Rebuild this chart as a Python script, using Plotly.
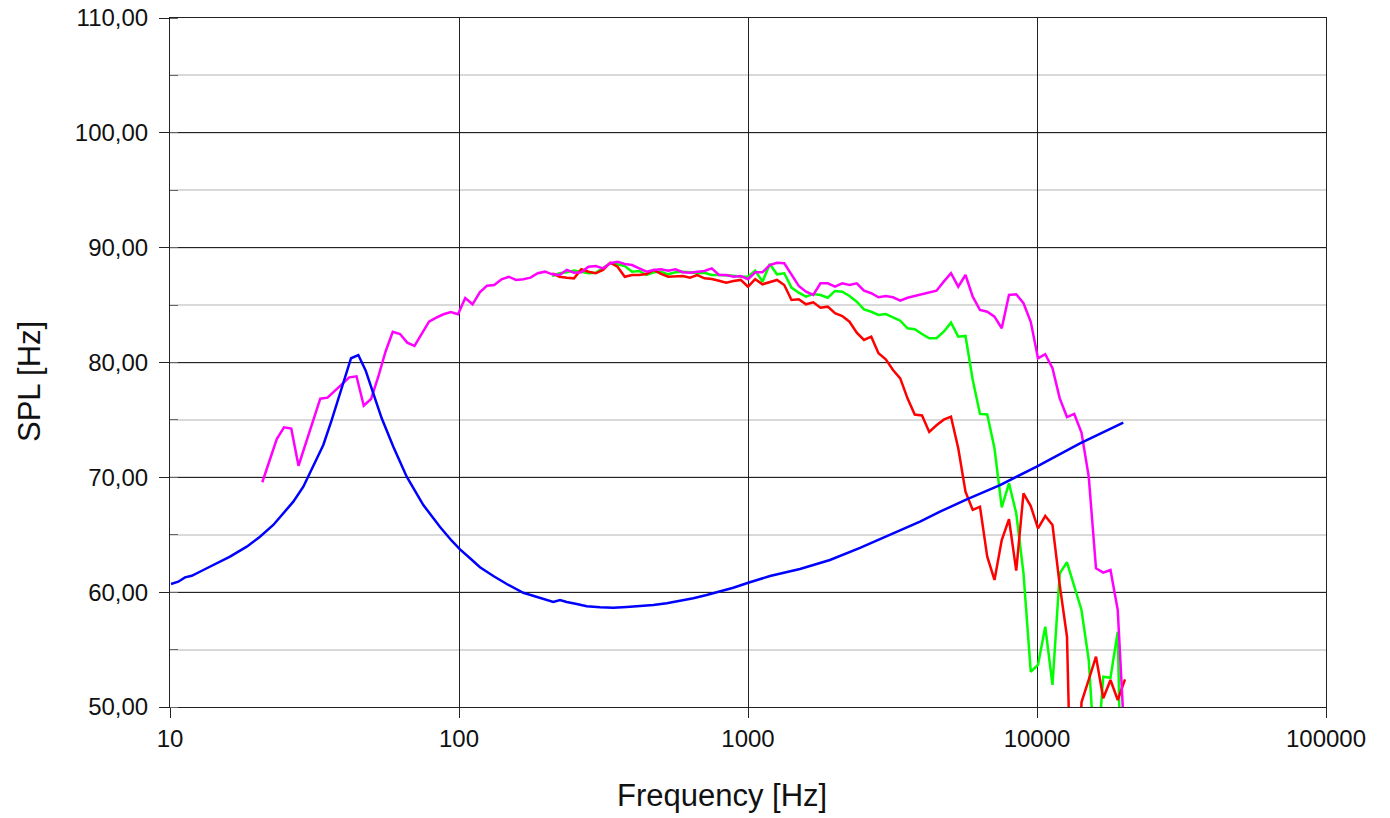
import plotly.graph_objects as go

# 1/12-octave measurement frequencies (Hz)
FREQ = [20.86, 22.10, 23.41, 24.80, 26.28, 27.84, 29.50, 31.25, 33.11, 35.08,
        37.16, 39.37, 41.71, 44.19, 46.82, 49.61, 52.56, 55.68, 58.99, 62.50,
        66.22, 70.15, 74.33, 78.75, 83.43, 88.39, 93.64, 99.21, 105.1, 111.4,
        118.0, 125.0, 132.4, 140.3, 148.7, 157.5, 166.9, 176.8, 187.3, 198.4,
        210.2, 222.7, 236.0, 250.0, 264.9, 280.6, 297.3, 315.0, 333.7, 353.6,
        374.6, 396.9, 420.4, 445.4, 471.9, 500.0, 529.7, 561.2, 594.6, 630.0,
        667.4, 707.1, 749.2, 793.7, 840.9, 890.9, 943.9, 1000, 1059.5, 1122.5,
        1189.2, 1259.9, 1334.8, 1414.2, 1498.3, 1587.4, 1681.8, 1781.8, 1887.7, 2000,
        2118.9, 2244.9, 2378.4, 2519.8, 2669.7, 2828.4, 2996.6, 3174.8, 3363.6, 3563.6,
        3775.5, 4000, 4237.8, 4489.8, 4756.8, 5039.7, 5339.4, 5656.9, 5993.2, 6349.6,
        6727.2, 7127.2, 7551.0, 8000, 8475.7, 8979.7, 9513.7, 10079, 10679, 11314,
        11986, 12699, 13454, 14254, 15102, 16000, 16951, 17959, 19027, 20159]

MAGENTA_DB = [69.57, 71.46, 73.34, 74.36, 74.24, 71.01, 72.96, 74.76, 76.85, 76.94,
              77.55, 78.13, 78.71, 78.80, 76.24, 76.82, 78.76, 80.94, 82.68, 82.48,
              81.73, 81.44, 82.48, 83.55, 83.90, 84.20, 84.40, 84.20, 85.62, 85.07,
              86.11, 86.69, 86.75, 87.25, 87.47, 87.19, 87.25, 87.39, 87.77, 87.91,
              87.68, 87.62, 88.06, 87.82, 87.86, 88.34, 88.40, 88.20, 88.64, 88.78,
              88.58, 88.49, 88.20, 87.91, 88.06, 88.12, 88.00, 88.12, 87.86, 87.82,
              87.91, 87.97, 88.20, 87.62, 87.62, 87.47, 87.53, 87.25, 87.86, 87.86,
              88.49, 88.69, 88.64, 87.62, 86.66, 86.17, 85.88, 86.90, 86.90, 86.60,
              86.90, 86.75, 86.90, 86.25, 86.03, 85.68, 85.79, 85.68, 85.38, 85.64,
              85.79, 85.94, 86.08, 86.25, 87.04, 87.77, 86.60, 87.62, 85.73, 84.57,
              84.42, 83.99, 82.98, 85.88, 85.94, 85.16, 83.55, 80.37, 80.72, 79.50,
              76.88, 75.25, 75.52, 73.89, 70.06, 62.08, 61.70, 61.93, 58.45, 46.30]

# red and green start at 210.2 Hz (index 40 of FREQ)
RG_START = 40

RED_DB = [87.77, 87.47, 87.39, 87.33, 88.12, 87.91, 87.77, 88.06, 88.69, 88.34,
          87.47, 87.62, 87.62, 87.71, 88.06, 87.71, 87.47, 87.47, 87.53, 87.39,
          87.62, 87.33, 87.27, 87.12, 86.95, 87.10, 87.19, 86.60, 87.25, 86.81,
          86.99, 87.19, 86.75, 85.44, 85.51, 85.07, 85.24, 84.77, 84.86, 84.29,
          84.05, 83.55, 82.60, 81.96, 82.25, 80.80, 80.28, 79.35, 78.62, 76.88,
          75.47, 75.39, 73.95, 74.53, 75.02, 75.28, 72.53, 68.75, 67.16, 67.44,
          63.09, 61.06, 64.54, 66.35, 61.87, 68.61, 67.50, 65.56, 66.63, 65.85,
          60.62, 56.12, 30.00, 50.41, 52.39, 54.38, 50.76, 52.35, 50.61, 52.41]

GREEN_DB = [87.53, 87.77, 87.86, 88.00, 87.91, 87.77, 87.82, 88.20, 88.64, 88.55,
            88.40, 87.91, 87.97, 87.62, 87.86, 87.91, 87.68, 87.86, 87.91, 87.86,
            87.77, 87.82, 87.62, 87.62, 87.62, 87.56, 87.47, 87.47, 88.01, 87.04,
            88.58, 87.68, 87.77, 86.52, 86.08, 85.73, 85.97, 85.88, 85.64, 86.23,
            86.17, 85.79, 85.30, 84.63, 84.42, 84.14, 84.22, 83.94, 83.64, 82.98,
            82.89, 82.48, 82.11, 82.11, 82.68, 83.47, 82.25, 82.31, 78.48, 75.52,
            75.47, 72.53, 67.39, 69.48, 66.87, 61.64, 53.07, 53.66, 56.99, 51.92,
            61.64, 62.60, 60.62, 58.45, 54.09, 44.10, 52.64, 52.55, 56.56, 26.00]

BLUE_F = [10.08, 10.68, 11.27, 11.89, 13.04, 14.51, 16.13, 18.43, 20.48, 22.77,
          24.66, 26.71, 28.93, 31.32, 33.92, 36.26, 38.75, 40.32, 42.31, 44.84,
          47.56, 50.52, 54.02, 59.26, 65.92, 75.26, 85.99, 94.35, 100.8, 109.2,
          118.2, 131.5, 146.3, 166.9, 190.7, 212.0, 223.6, 235.9, 255.5, 276.7,
          307.5, 342.0, 380.5, 423.0, 470.3, 523.3, 581.9, 646.8, 719.6, 800.2,
          889.4, 1002, 1100, 1191.6, 1513, 1921, 2441, 3357, 3937, 4618,
          5712, 7447, 9977, 14087, 19889]
BLUE_DB = [60.71, 60.91, 61.29, 61.43, 61.93, 62.51, 63.09, 63.96, 64.83, 65.85,
           66.87, 67.88, 69.18, 70.93, 72.82, 74.99, 77.32, 78.76, 80.37, 80.65,
           79.29, 77.32, 75.14, 72.67, 70.06, 67.59, 65.68, 64.48, 63.73, 62.95,
           62.17, 61.41, 60.71, 59.95, 59.47, 59.14, 59.32, 59.14, 58.97, 58.77,
           58.68, 58.65, 58.71, 58.77, 58.88, 59.03, 59.23, 59.47, 59.75, 60.04,
           60.39, 60.82, 61.12, 61.41, 62.02, 62.80, 63.85, 65.35, 66.14, 67.01,
           68.09, 69.33, 70.93, 72.96, 74.76]

X_TICKS = [10, 100, 1000, 10000, 100000]
X_TICK_LABELS = ["10", "100", "1000", "10000", "100000"]
Y_TICKS = [50, 60, 70, 80, 90, 100, 110]
Y_TICK_LABELS = ["50,00", "60,00", "70,00", "80,00", "90,00", "100,00", "110,00"]
X_TITLE = "Frequency [Hz]"
Y_TITLE = "SPL [Hz]"

FONT = "Liberation Sans, Arial, sans-serif"

fig = go.Figure()
rg_f = FREQ[RG_START:]
fig.add_trace(go.Scatter(x=rg_f, y=GREEN_DB, mode="lines",
                         line=dict(color="#00ff00", width=2.5), name="green"))
fig.add_trace(go.Scatter(x=rg_f, y=RED_DB, mode="lines",
                         line=dict(color="#ff0000", width=2.5), name="red"))
fig.add_trace(go.Scatter(x=FREQ, y=MAGENTA_DB, mode="lines",
                         line=dict(color="#ff00ff", width=2.5), name="magenta"))
fig.add_trace(go.Scatter(x=BLUE_F, y=BLUE_DB, mode="lines",
                         line=dict(color="#0000ff", width=2.5), name="blue"))

fig.update_layout(
    width=1390, height=818,
    margin=dict(l=170, r=64, t=18, b=111),
    paper_bgcolor="white", plot_bgcolor="white",
    showlegend=False,
    font=dict(family=FONT, color="#111111", size=24),
    annotations=[
        dict(text=X_TITLE, xref="paper", yref="paper", x=0.4775, y=-0.128,
             xanchor="center", yanchor="middle", showarrow=False,
             font=dict(size=31, family=FONT, color="#111111")),
        dict(text=Y_TITLE, xref="paper", yref="paper", x=-0.1211, y=0.4717,
             xanchor="center", yanchor="middle", showarrow=False, textangle=-90,
             font=dict(size=31, family=FONT, color="#111111")),
    ],
)
fig.update_xaxes(
    type="log", range=[1, 5], automargin=False,
    tickvals=X_TICKS, ticktext=X_TICK_LABELS,
    ticks="outside", ticklen=10, tickcolor="#222222", tickwidth=1,
    showgrid=True, gridcolor="#222222", gridwidth=1,
    showline=True, linecolor="#222222", linewidth=1, mirror=True,
    zeroline=False, ticklabeloverflow="allow",
    tickfont=dict(size=24, family=FONT),
)
fig.update_yaxes(
    range=[50, 110], automargin=False,
    tickvals=Y_TICKS, ticktext=Y_TICK_LABELS,
    ticks="outside", ticklen=10, tickcolor="#222222", tickwidth=1,
    showgrid=True, gridcolor="#222222", gridwidth=1,
    showline=True, linecolor="#222222", linewidth=1, mirror=True,
    zeroline=False, ticklabeloverflow="allow",
    tickfont=dict(size=24, family=FONT),
    ticklabelstandoff=6,
    minor=dict(dtick=5, tick0=50, ticks="inside", ticklen=8, tickcolor="#666666",
               showgrid=True, gridcolor="#d9d9d9", gridwidth=1.5),
)

# remove the default 8px page margin so the figure fills the window exactly
fig.write_html("out.html",
               config={"displayModeBar": False},
               post_script="document.body.style.margin='0';"
                           "document.body.style.overflow='hidden';")
